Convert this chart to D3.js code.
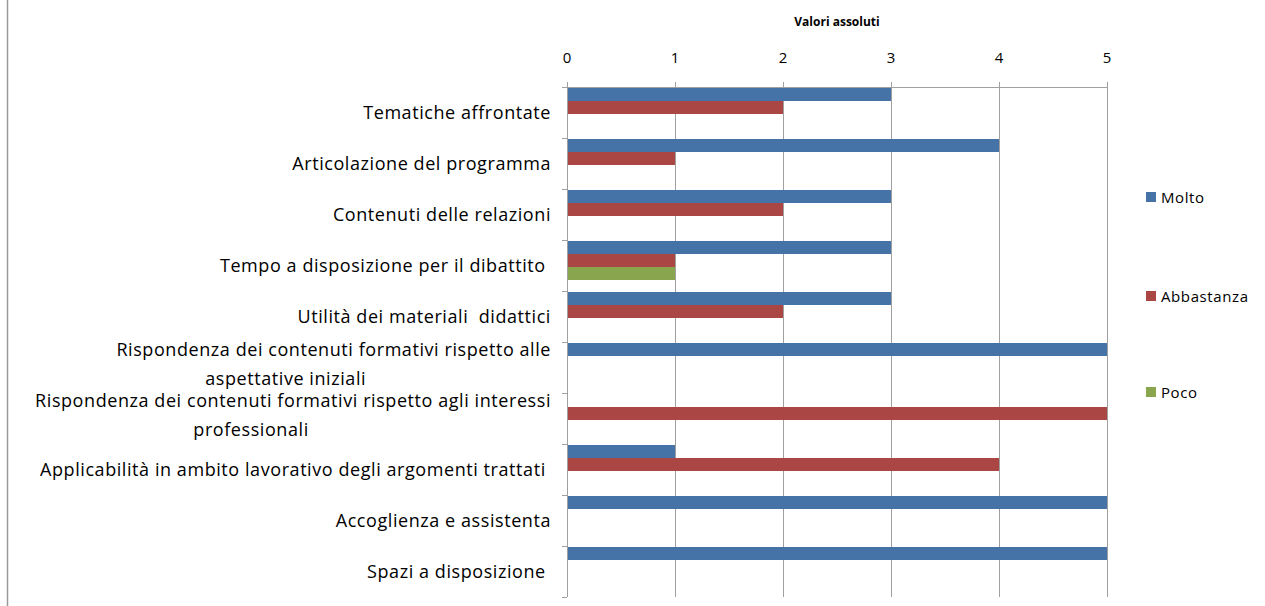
<!DOCTYPE html>
<meta charset="utf-8">
<script src="https://d3js.org/d3.v7.min.js"></script>
<style>
  body { margin: 0; background: #fff; }
  text { font-family: "Open Sans", "Noto Sans", sans-serif; fill: #000; }
</style>
<body>
<script>
// data
var categories = [
  ["Tematiche affrontate"],
  ["Articolazione del programma"],
  ["Contenuti delle relazioni"],
  ["Tempo a disposizione per il dibattito "],
  ["Utilità dei materiali  didattici"],
  ["Rispondenza dei contenuti formativi rispetto alle", "aspettative iniziali"],
  ["Rispondenza dei contenuti formativi rispetto agli interessi", "professionali"],
  ["Applicabilità in ambito lavorativo degli argomenti trattati "],
  ["Accoglienza e assistenta"],
  ["Spazi a disposizione "]
];
var seriesNames = ["Molto", "Abbastanza", "Poco"];
var molto      = [3, 4, 3, 3, 3, 5, 0, 1, 5, 5];
var abbastanza = [2, 1, 2, 1, 2, 0, 5, 4, 0, 0];
var poco       = [0, 0, 0, 1, 0, 0, 0, 0, 0, 0];
var xTicks = [0, 1, 2, 3, 4, 5];

var colors = ["#4572a7", "#aa4643", "#89a54e"];
var values = [molto, abbastanza, poco];

var W = 1265, H = 606;
var svg = d3.select("body").append("svg")
    .attr("width", W).attr("height", H);

// left border of the chart area
svg.append("line")
    .attr("x1", 7.5).attr("x2", 7.5).attr("y1", 0).attr("y2", H)
    .style("stroke", "#9a9a9a").style("stroke-width", 1.5);

var x = d3.scaleLinear().domain([0, 5]).range([567, 1107]);
var y = d3.scaleBand().domain(d3.range(categories.length)).range([87, 597]);
var sub = d3.scaleBand().domain(seriesNames).range([1, 40]);

// grid lines
svg.append("g").selectAll("line")
  .data(xTicks)
  .enter().append("line")
    .attr("x1", function(d) { return Math.round(x(d)) + 0.5; })
    .attr("x2", function(d) { return Math.round(x(d)) + 0.5; })
    .attr("y1", 82).attr("y2", 597)
    .style("stroke", "#a0a0a0");

// top axis line
svg.append("line")
    .attr("x1", x(0)).attr("x2", x(5))
    .attr("y1", 87.5).attr("y2", 87.5)
    .style("stroke", "#a0a0a0");

// top tick labels
svg.append("g").selectAll("text")
  .data(xTicks)
  .enter().append("text")
    .attr("x", function(d) { return x(d); })
    .attr("y", 63)
    .attr("text-anchor", "middle")
    .style("font-size", "15px")
    .text(function(d) { return d; });

svg.append("text")
    .attr("x", 837).attr("y", 26)
    .attr("text-anchor", "middle")
    .style("font-size", "12px").style("font-weight", "bold")
    .text("Valori assoluti");

// left axis with ticks at band edges
svg.append("line")
    .attr("x1", x(0) + 0.5).attr("x2", x(0) + 0.5)
    .attr("y1", 87).attr("y2", 597)
    .style("stroke", "#a0a0a0");
var edges = d3.range(categories.length + 1).map(function(i) { return 87 + i * y.bandwidth(); });
svg.append("g").selectAll("line")
  .data(edges)
  .enter().append("line")
    .attr("x1", x(0) - 5).attr("x2", x(0))
    .attr("y1", function(d) { return Math.round(d) + 0.5; })
    .attr("y2", function(d) { return Math.round(d) + 0.5; })
    .style("stroke", "#a0a0a0");

// bars
seriesNames.forEach(function(s, si) {
  svg.append("g").selectAll("rect")
    .data(values[si])
    .enter().append("rect")
      .attr("x", x(0) + 1)
      .attr("y", function(d, i) { return y(i) + sub(s); })
      .attr("width", function(d) { return d > 0 ? x(d) - x(0) - 1 : 0; })
      .attr("height", sub.bandwidth())
      .style("fill", colors[si]);
});

// category labels
var secondLineShift = { 5: -48, 6: -42 };
function labelStyle(t) {
  return t.style("font-size", "18px").style("letter-spacing", "0.57px").style("white-space", "pre");
}
var labels = svg.append("g").selectAll("g")
  .data(categories)
  .enter().append("g");
labels.each(function(lines, i) {
  var g = d3.select(this);
  var cy = y(i) + y.bandwidth() / 2;
  if (lines.length === 1) {
    g.append("text")
      .attr("x", 551).attr("y", cy + 6)
      .attr("text-anchor", "end")
      .call(labelStyle)
      .text(lines[0]);
  } else {
    var t1 = g.append("text")
      .attr("x", 551).attr("y", cy - 12)
      .attr("text-anchor", "end")
      .call(labelStyle)
      .text(lines[0]);
    var w = t1.node().getComputedTextLength();
    g.append("text")
      .attr("x", 551 - w / 2 + secondLineShift[i]).attr("y", cy + 17)
      .attr("text-anchor", "middle")
      .call(labelStyle)
      .text(lines[1]);
  }
});

// legend
var leg = svg.append("g").selectAll("g")
  .data(seriesNames)
  .enter().append("g")
    .attr("transform", function(d, i) { return "translate(1146," + [192, 291, 387][i] + ")"; });
leg.append("rect")
    .attr("width", 10).attr("height", 10)
    .style("fill", function(d, i) { return colors[i]; });
leg.append("text")
    .attr("x", 15).attr("y", 10.5)
    .style("font-size", "15px").style("letter-spacing", "0.6px")
    .text(function(d) { return d; });
</script>
</body>
